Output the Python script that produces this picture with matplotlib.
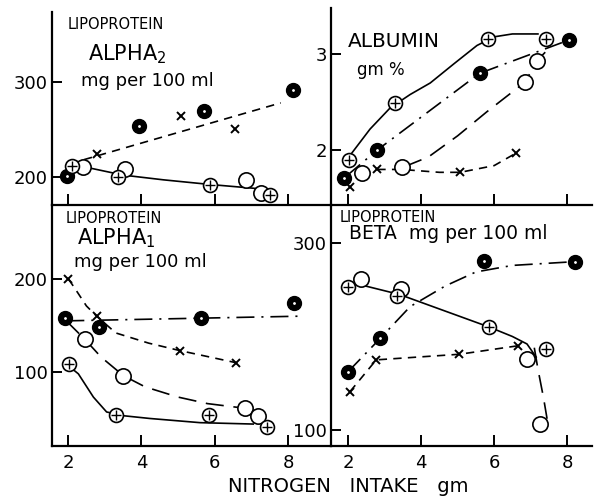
import matplotlib.pyplot as plt

plt.rcParams['font.family'] = ['DejaVu Sans']
plt.rcParams['lines.scale_dashes'] = False

# ---- ALPHA2 (top left) ----
a2_fill_x = [1.96, 3.94, 5.71, 8.14]
a2_fill_y = [201, 254, 269, 292]
a2_open_x = [2.40, 3.55, 6.85, 7.25]
a2_open_y = [211, 208, 197, 183]
a2_plus_x = [2.10, 3.37, 5.87, 7.52]
a2_plus_y = [212, 200, 192, 181]
a2_cross_x = [2.78, 5.08, 6.55]
a2_cross_y = [224, 264, 250]
a2_dash_x = [2.05, 7.8]
a2_dash_y = [214, 278]
a2_solid_x = [2.4, 3.5, 4.6, 5.9, 7.1]
a2_solid_y = [211, 202, 197, 192, 188]

# ---- ALBUMIN (top right) ----
alb_fill_x = [1.90, 2.79, 5.60, 8.04]
alb_fill_y = [1.71, 2.00, 2.80, 3.15]
alb_open_x = [2.37, 3.47, 6.85, 7.17]
alb_open_y = [1.76, 1.83, 2.71, 2.93]
alb_plus_x = [2.03, 3.29, 5.84, 7.42]
alb_plus_y = [1.90, 2.49, 3.16, 3.16]
alb_cross_x = [2.05, 2.80, 5.07, 6.60]
alb_cross_y = [1.62, 1.80, 1.77, 1.97]
alb_solid_x = [2.08, 2.6, 3.15, 3.7, 4.25, 4.9, 5.53, 6.0, 6.5, 7.2]
alb_solid_y = [1.96, 2.22, 2.44, 2.58, 2.70, 2.90, 3.09, 3.18, 3.21, 3.21]
alb_dd_x = [1.95, 2.79, 5.60, 8.0]
alb_dd_y = [1.73, 2.00, 2.80, 3.14]
alb_long_x = [3.55, 4.2, 5.0, 5.8, 6.85, 7.17, 7.4]
alb_long_y = [1.83, 1.93, 2.15, 2.40, 2.71, 2.93, 3.02]
alb_short_x = [2.8, 3.47, 4.5, 5.07, 6.0, 6.6]
alb_short_y = [1.80, 1.80, 1.77, 1.77, 1.84, 1.97]

# ---- ALPHA1 (bottom left) ----
a1_fill_x = [1.92, 2.84, 5.62, 8.16]
a1_fill_y = [158, 148, 158, 174]
a1_open_x = [2.46, 3.51, 6.82, 7.17]
a1_open_y = [135, 96, 61, 53]
a1_plus_x = [2.03, 3.31, 5.85, 7.42]
a1_plus_y = [109, 54, 54, 41]
a1_cross_x = [2.01, 2.78, 5.05, 6.58]
a1_cross_y = [200, 160, 123, 110]
a1_dd_x = [1.95, 8.3]
a1_dd_y = [155, 160]
a1_short_x = [2.01, 2.2, 2.5, 2.78, 3.3, 4.2, 5.05, 6.58]
a1_short_y = [200, 189, 171, 160, 142, 131, 123, 110]
a1_long_x = [1.95, 2.46, 2.9, 3.51, 4.1, 5.0, 5.8, 6.82, 7.17]
a1_long_y = [155, 135, 116, 96, 84, 73, 66, 61, 53]
a1_solid_x = [2.03, 2.28, 2.69, 3.05, 3.5, 4.23, 5.6, 7.05]
a1_solid_y = [106, 98, 73, 57, 53, 50, 45.5, 44]

# ---- BETA (bottom right) ----
b_fill_x = [1.99, 2.88, 5.73, 8.22]
b_fill_y = [162, 198, 281, 280]
b_open_x = [2.36, 3.45, 6.90, 7.26]
b_open_y = [262, 251, 176, 106]
b_plus_x = [2.01, 3.35, 5.87, 7.42]
b_plus_y = [253, 243, 210, 187]
b_cross_x = [2.05, 2.77, 5.05, 6.64]
b_cross_y = [141, 175, 181, 190]
b_dd_x = [1.99, 2.88, 3.7, 4.66, 5.5, 6.5, 8.2]
b_dd_y = [162, 198, 232, 254, 269, 276, 280]
b_solid_x = [2.37, 3.4, 4.6, 5.87, 6.5, 6.9, 7.15]
b_solid_y = [255, 245, 228, 210, 200, 192, 178]
b_long_x = [7.1, 7.2, 7.35, 7.45]
b_long_y = [188, 165, 135, 112]
b_short_x = [2.05, 2.77, 5.05, 6.64]
b_short_y = [141, 175, 181, 190]

LW = 1.2
SHORT = (6, 4.5)
LONG = (13, 7)
DASHDOT = (13, 5, 1.5, 5)


def markers(ax, fx, fy, ox, oy, px, py, cx, cy):
    ax.plot(fx, fy, 'o', ms=10, mfc='black', mec='black', zorder=5)
    ax.plot(fx, fy, '.', ms=2, color='white', zorder=6)
    ax.plot(ox, oy, 'o', ms=11, mfc='white', mec='black', mew=1.2, zorder=5)
    ax.plot(px, py, 'o', ms=10, mfc='white', mec='black', mew=1.2, zorder=5)
    ax.plot(px, py, '+', ms=7, color='black', mew=1.0, zorder=6)
    ax.plot(cx, cy, 'x', ms=6, color='black', mew=1.4, zorder=5)


def style(ax, xlim, ylim, yticks, xlabels):
    ax.set_xlim(xlim)
    ax.set_ylim(ylim)
    ax.spines['top'].set_visible(False)
    ax.spines['right'].set_visible(False)
    ax.spines['left'].set_linewidth(1.6)
    ax.spines['bottom'].set_linewidth(1.6)
    ax.set_xticks([2, 4, 6, 8])
    ax.set_yticks(yticks)
    ax.tick_params(axis='x', direction='in', length=8, width=1.4,
                   labelsize=13, pad=6, labelbottom=xlabels)
    ax.tick_params(axis='y', direction='in', length=7, width=1.4,
                   labelsize=13, pad=3)
    ax.patch.set_alpha(0)


fig = plt.figure(figsize=(5.94, 5.0), dpi=100)

# top left
ax1 = fig.add_axes([0.0875, 0.59, 0.4697, 0.386])
markers(ax1, a2_fill_x, a2_fill_y, a2_open_x, a2_open_y,
        a2_plus_x, a2_plus_y, a2_cross_x, a2_cross_y)
ax1.plot(a2_dash_x, a2_dash_y, color='black', lw=LW, dashes=SHORT)
ax1.plot(a2_solid_x, a2_solid_y, color='black', lw=LW)
style(ax1, (1.56, 9.17), (170.5, 373.7), [200, 300], False)
ax1.text(0.055, 0.975, 'LIPOPROTEIN', transform=ax1.transAxes, fontsize=10.5, va='top')
ax1.text(0.13, 0.84, r'ALPHA$_{\mathregular{2}}$', transform=ax1.transAxes,
         fontsize=15, va='top')
ax1.text(0.105, 0.69, 'mg per 100 ml', transform=ax1.transAxes, fontsize=13, va='top')

# top right
ax2 = fig.add_axes([0.5572, 0.59, 0.44, 0.394])
markers(ax2, alb_fill_x, alb_fill_y, alb_open_x, alb_open_y,
        alb_plus_x, alb_plus_y, alb_cross_x, alb_cross_y)
ax2.plot(alb_solid_x, alb_solid_y, color='black', lw=LW)
ax2.plot(alb_dd_x, alb_dd_y, color='black', lw=LW, dashes=DASHDOT)
ax2.plot(alb_long_x, alb_long_y, color='black', lw=LW, dashes=LONG)
ax2.plot(alb_short_x, alb_short_y, color='black', lw=LW, dashes=SHORT)
style(ax2, (1.53, 8.69), (1.43, 3.48), [2, 3], False)
ax2.text(0.065, 0.88, 'ALBUMIN', transform=ax2.transAxes, fontsize=14.5, va='top')
ax2.text(0.1, 0.73, 'gm %', transform=ax2.transAxes, fontsize=12, va='top')

# bottom left
ax3 = fig.add_axes([0.0875, 0.108, 0.4697, 0.482])
markers(ax3, a1_fill_x, a1_fill_y, a1_open_x, a1_open_y,
        a1_plus_x, a1_plus_y, a1_cross_x, a1_cross_y)
ax3.plot(a1_dd_x, a1_dd_y, color='black', lw=LW, dashes=DASHDOT)
ax3.plot(a1_short_x, a1_short_y, color='black', lw=LW, dashes=SHORT)
ax3.plot(a1_long_x, a1_long_y, color='black', lw=LW, dashes=LONG)
ax3.plot(a1_solid_x, a1_solid_y, color='black', lw=LW)
style(ax3, (1.56, 9.17), (20.4, 279.6), [100, 200], True)
ax3.text(0.05, 0.975, 'LIPOPROTEIN', transform=ax3.transAxes, fontsize=10.5, va='top')
ax3.text(0.09, 0.91, r'ALPHA$_{\mathregular{1}}$', transform=ax3.transAxes,
         fontsize=15, va='top')
ax3.text(0.08, 0.80, 'mg per 100 ml', transform=ax3.transAxes, fontsize=13, va='top')

# bottom right
ax4 = fig.add_axes([0.5572, 0.108, 0.44, 0.482])
markers(ax4, b_fill_x, b_fill_y, b_open_x, b_open_y,
        b_plus_x, b_plus_y, b_cross_x, b_cross_y)
ax4.plot(b_dd_x, b_dd_y, color='black', lw=LW, dashes=DASHDOT)
ax4.plot(b_solid_x, b_solid_y, color='black', lw=LW)
ax4.plot(b_long_x, b_long_y, color='black', lw=LW, dashes=LONG)
ax4.plot(b_short_x, b_short_y, color='black', lw=LW, dashes=SHORT)
style(ax4, (1.53, 8.69), (82.9, 340.6), [100, 300], True)
ax4.text(0.035, 0.98, 'LIPOPROTEIN', transform=ax4.transAxes, fontsize=10.5, va='top')
ax4.text(0.07, 0.92, 'BETA  mg per 100 ml', transform=ax4.transAxes,
         fontsize=13.5, va='top')

fig.text(348 / 594, 1 - 487 / 500, 'NITROGEN   INTAKE   gm', ha='center',
         va='center', fontsize=14)

fig.savefig('out.png', dpi=100)
